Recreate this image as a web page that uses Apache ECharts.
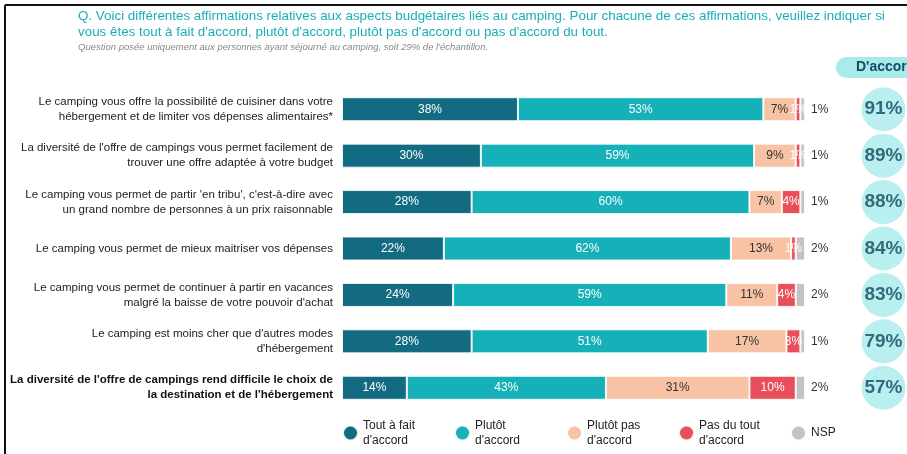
<!DOCTYPE html>
<html>
<head>
<meta charset="utf-8">
<script src="https://cdn.jsdelivr.net/npm/echarts@6/dist/echarts.min.js"></script>
<style>
  html, body { margin: 0; padding: 0; background: #fff; }
  #chart { width: 907px; height: 454px; }
</style>
</head>
<body>
<div id="chart"></div>
<script>
// libellés des affirmations (de haut en bas)
var categories = [
    "Le camping vous offre la possibilité de cuisiner dans votre\nhébergement et de limiter vos dépenses alimentaires*",
    "La diversité de l'offre de campings vous permet facilement de\ntrouver une offre adaptée à votre budget",
    "Le camping vous permet de partir 'en tribu', c'est-à-dire avec\nun grand nombre de personnes à un prix raisonnable",
    "Le camping vous permet de mieux maitriser vos dépenses",
    "Le camping vous permet de continuer à partir en vacances\nmalgré la baisse de votre pouvoir d'achat",
    "Le camping est moins cher que d'autres modes\nd'hébergement",
    "La diversité de l'offre de campings rend difficile le choix de\nla destination et de l'hébergement"
];

var toutAFait = [38, 30, 28, 22, 24, 28, 14];
var plutot = [53, 59, 60, 62, 59, 51, 43];
var plutotPas = [7, 9, 7, 13, 11, 17, 31];
var pasDuTout = [1, 1, 4, 1, 4, 3, 10];
var nsp = [1, 1, 1, 2, 2, 1, 2];
var dAccord = [91, 89, 88, 84, 83, 79, 57];

var seriesNames = ["Tout à fait\nd'accord", "Plutôt\nd'accord", "Plutôt pas\nd'accord", "Pas du tout\nd'accord", "NSP"];
var colors = ["#126b80", "#15b0b8", "#f7c3a4", "#e84f5a", "#c3c3c3"];

var myChart = echarts.init(document.getElementById("chart"));
var FONT = "Liberation Sans";

function barSerie(idx, data, labelColor, pos) {
    return {
        name: seriesNames[idx],
        type: "bar",
        stack: "total",
        barWidth: 24,
        data: data,
        itemStyle: { color: colors[idx], borderColor: "rgba(255,255,255,0.85)", borderWidth: 1 },
        label: {
            show: true,
            position: pos || "inside",
            distance: 6,
            formatter: "{c}%",
            color: labelColor,
            fontFamily: FONT,
            fontSize: 12
        },
        emphasis: { disabled: true }
    };
}

var option = {
    animation: false,
    textStyle: { fontFamily: FONT },
    graphic: [
        { type: "line", shape: { x1: 5, y1: 5, x2: 907, y2: 5 }, style: { stroke: "#111", lineWidth: 2 } },
        { type: "line", shape: { x1: 5, y1: 5, x2: 5, y2: 454 }, style: { stroke: "#111", lineWidth: 2 } },
        {
            type: "text", left: 78, top: 8,
            style: {
                text: "Q. Voici différentes affirmations relatives aux aspects budgétaires liés au camping. Pour chacune de ces affirmations, veuillez indiquer si\nvous êtes tout à fait d'accord, plutôt d'accord, plutôt pas d'accord ou pas d'accord du tout.",
                fill: "#1aaeb8", font: "13.4px " + FONT, lineHeight: 16
            }
        },
        {
            type: "text", left: 78, top: 42,
            style: {
                text: "Question posée uniquement aux personnes ayant séjourné au camping, soit 29% de l'échantillon.",
                fill: "#888", font: "italic 9.5px " + FONT
            }
        },
        {
            type: "rect", shape: { x: 836, y: 57, width: 90, height: 21, r: 10 },
            style: { fill: "#a8ebeb" }
        },
        {
            type: "text", left: 856, top: 60,
            style: { text: "D'accord", fill: "#124f63", font: "bold 14px " + FONT }
        }
    ],
    legend: {
        left: 337, top: 413,
        icon: "circle",
        itemWidth: 15, itemHeight: 15,
        itemGap: 16,
        data: seriesNames,
        textStyle: { fontFamily: FONT, fontSize: 12, color: "#222", width: 75, lineHeight: 15 },
        selectedMode: false
    },
    grid: [
        { left: 342, width: 463, top: 86, height: 325 },
        { left: 860, width: 48, top: 86, height: 325 }
    ],
    xAxis: [
        { type: "value", min: 0, max: 100, show: false, gridIndex: 0 },
        { type: "value", min: 0, max: 1, show: false, gridIndex: 1 }
    ],
    yAxis: [
        {
            type: "category", data: categories, inverse: true, gridIndex: 0,
            axisLine: { show: false }, axisTick: { show: false },
            axisLabel: {
                margin: 9, align: "right", color: "#222", fontSize: 11.5, lineHeight: 15,
                fontFamily: FONT,
                formatter: function (v, i) {
                    if (i === categories.length - 1) {
                        return v.split("\n").map(function (s) { return "{b|" + s + "}"; }).join("\n");
                    }
                    return v;
                },
                rich: { b: { fontWeight: "bold", fontSize: 11.5, lineHeight: 15, color: "#111", fontFamily: FONT } }
            }
        },
        {
            type: "category", data: categories, inverse: true, gridIndex: 1, show: false
        }
    ],
    series: [
        barSerie(0, toutAFait, "#fff"),
        barSerie(1, plutot, "#fff"),
        barSerie(2, plutotPas, "#333"),
        barSerie(3, pasDuTout, "#fff"),
        barSerie(4, nsp, "#333", "right"),
        {
            type: "scatter",
            xAxisIndex: 1, yAxisIndex: 1,
            symbolSize: 44,
            itemStyle: { color: "#a8ebeb" },
            data: dAccord.map(function (v, i) { return [0.5, i, v]; }),
            label: {
                show: true, position: "inside",
                formatter: function (p) { return p.value[2] + "%"; },
                color: "#0f4a5e", fontSize: 19, fontWeight: "bold", fontFamily: FONT
            },
            emphasis: { disabled: true }
        }
    ]
};

myChart.setOption(option);
window.addEventListener("resize", function () {
    myChart.resize();
});
</script>
</body>
</html>
